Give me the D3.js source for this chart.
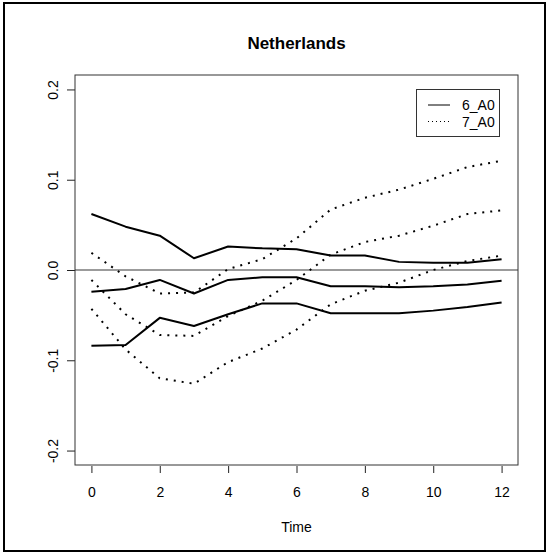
<!DOCTYPE html>
<html>
<head>
<meta charset="utf-8">
<script src="https://cdn.jsdelivr.net/npm/d3@7"></script>
<style>
  html, body { margin: 0; padding: 0; background: #fff; }
  svg { display: block; }
  text { font-family: Arial, "Liberation Sans", sans-serif; fill: #000; }
</style>
</head>
<body>
<script>
// Impulse responses over 13 periods: estimate with lower/upper bands
const time = [0, 1, 2, 3, 4, 5, 6, 7, 8, 9, 10, 11, 12];

// 6_A0 (solid)
const a6Upper = [0.062, 0.048, 0.038, 0.013, 0.026, 0.024, 0.023, 0.016, 0.016, 0.009, 0.008, 0.008, 0.012];
const a6Mid   = [-0.024, -0.021, -0.011, -0.026, -0.011, -0.008, -0.008, -0.018, -0.018, -0.019, -0.018, -0.016, -0.012];
const a6Lower = [-0.084, -0.083, -0.053, -0.062, -0.049, -0.037, -0.037, -0.048, -0.048, -0.048, -0.045, -0.041, -0.036];

// 7_A0 (dotted)
const a7Upper = [0.019, -0.007, -0.026, -0.025, 0.001, 0.012, 0.035, 0.067, 0.080, 0.089, 0.101, 0.114, 0.121];
const a7Mid   = [-0.011, -0.049, -0.072, -0.073, -0.051, -0.034, -0.011, 0.017, 0.031, 0.038, 0.049, 0.062, 0.066];
const a7Lower = [-0.043, -0.088, -0.120, -0.126, -0.102, -0.087, -0.066, -0.038, -0.023, -0.014, 0.000, 0.010, 0.016];

const xTicks = [0, 2, 4, 6, 8, 10, 12];
const yTicks = [-0.2, -0.1, 0.0, 0.1, 0.2];
const yTickLabels = ["-0.2", "-0.1", "0.0", "0.1", "0.2"];
const legendLabels = ["6_A0", "7_A0"];
const titleText = "Netherlands";
const xLabel = "Time";

const W = 550, H = 553;
const plot = { left: 75, right: 518, top: 75, bottom: 465 };

const svg = d3.select("body").append("svg")
  .attr("width", W).attr("height", H);

svg.append("rect").attr("width", W).attr("height", H).attr("fill", "#fff");

// outer frame
svg.append("rect")
  .attr("x", 4).attr("y", 3).attr("width", 541).attr("height", 548)
  .attr("fill", "none").attr("stroke", "#000").attr("stroke-width", 2);

// x range padded 4% each side, y limits ±0.2 padded 4%
const x = d3.scaleLinear().domain([-0.48, 12.48]).range([plot.left, plot.right]);
const y = d3.scaleLinear().domain([-0.216, 0.216]).range([plot.bottom, plot.top]);

// title
svg.append("text")
  .attr("x", (plot.left + plot.right) / 2).attr("y", 43)
  .attr("text-anchor", "middle").attr("dominant-baseline", "central")
  .attr("font-size", 17).attr("font-weight", "bold")
  .text(titleText);

// axes
const xAxis = d3.axisBottom(x).tickValues(xTicks).tickSize(7).tickPadding(14)
  .tickFormat(d3.format("d"));
const gx = svg.append("g").attr("transform", `translate(0,${plot.bottom + 1})`).call(xAxis);
gx.select(".domain").remove();
gx.selectAll("line").attr("stroke", "#222");
gx.selectAll("text").attr("font-size", 14).attr("font-family", "Arial, 'Liberation Sans', sans-serif")
  .attr("fill", "#222");

const yAxis = d3.axisLeft(y).tickValues(yTicks).tickSize(8)
  .tickFormat((d, i) => yTickLabels[i]);
const gy = svg.append("g").attr("transform", `translate(${plot.left},0)`).call(yAxis);
gy.select(".domain").remove();
gy.selectAll("line").attr("stroke", "#222");
gy.selectAll("text")
  .attr("font-size", 14).attr("font-family", "Arial, 'Liberation Sans', sans-serif")
  .attr("fill", "#222")
  .attr("text-anchor", "middle").attr("dy", null)
  .attr("x", null)
  .attr("dominant-baseline", "central")
  .attr("transform", d => `translate(-22,0) rotate(-90)`);

// x-axis title
svg.append("text")
  .attr("x", (plot.left + plot.right) / 2).attr("y", 527)
  .attr("text-anchor", "middle").attr("dominant-baseline", "central")
  .attr("font-size", 14).attr("fill", "#222")
  .text(xLabel);

// zero reference line
svg.append("line")
  .attr("x1", plot.left).attr("x2", plot.right)
  .attr("y1", y(0)).attr("y2", y(0))
  .attr("stroke", "#7a7a7a").attr("stroke-width", 1.3);

const line = d3.line().x((d, i) => x(time[i])).y(d => y(d));

const series = [
  { values: a6Upper, dash: null },
  { values: a6Mid, dash: null },
  { values: a6Lower, dash: null },
  { values: a7Upper, dash: "2,6" },
  { values: a7Mid, dash: "2,6" },
  { values: a7Lower, dash: "2,6" }
];

svg.append("g").selectAll("path").data(series).join("path")
  .attr("d", d => line(d.values))
  .attr("fill", "none").attr("stroke", "#000").attr("stroke-width", 2)
  .attr("stroke-dasharray", d => d.dash)
  .attr("stroke-linejoin", "round");

// plot box
svg.append("rect")
  .attr("x", plot.left).attr("y", plot.top)
  .attr("width", plot.right - plot.left).attr("height", plot.bottom - plot.top)
  .attr("fill", "none").attr("stroke", "#333").attr("stroke-width", 1);

// legend
const leg = { x: 416, y: 89, w: 83, h: 47 };
svg.append("rect")
  .attr("x", leg.x + 0.5).attr("y", leg.y + 0.5).attr("width", leg.w).attr("height", leg.h)
  .attr("fill", "#fff").attr("stroke", "#333").attr("stroke-width", 1);
const legendDash = [null, "1,3"];
legendLabels.forEach((lab, i) => {
  const ly = 105 + i * 16.5;
  svg.append("line")
    .attr("x1", 428).attr("x2", 450).attr("y1", ly).attr("y2", ly)
    .attr("stroke", "#000").attr("stroke-width", 1)
    .attr("stroke-dasharray", legendDash[i]);
  svg.append("text")
    .attr("x", 462).attr("y", ly).attr("dominant-baseline", "central")
    .attr("font-size", 14).attr("fill", "#222")
    .text(lab);
});
</script>
</body>
</html>
